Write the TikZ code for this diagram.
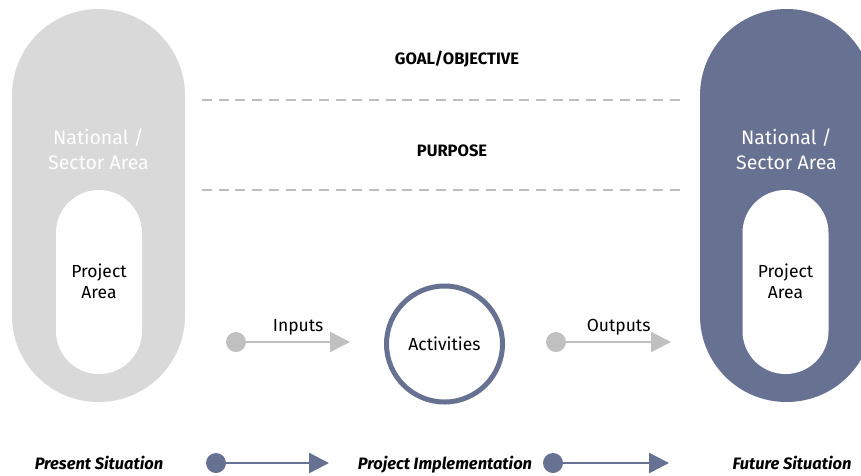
\documentclass[tikz,border=0pt]{standalone}
\usepackage{fontspec}
\setmainfont{Fira Sans}
\usepackage{tikz}
\usetikzlibrary{arrows.meta}
\definecolor{slate}{RGB}{103,113,145}
\definecolor{lightgrey}{RGB}{217,217,217}
\definecolor{arrowgrey}{RGB}{192,192,192}
\definecolor{dashgrey}{RGB}{190,190,190}
\tikzset{
    every node/.style={inner sep=0mm, align=center},
    capsule/.style={rectangle, minimum width=173pt, minimum height=393pt, rounded corners=86.4pt},
    hole/.style={rectangle, fill=white, minimum width=86pt, minimum height=184pt, rounded corners=42.9pt},
    dot/.style={circle, minimum size=20pt},
    flow/.style={line width=2.5pt, -{Triangle[length=20pt, width=20pt]}},
    heading/.style={font=\bfseries\fontsize{16.5}{19}\selectfont},
    stage/.style={anchor=base, font=\bfseries\itshape\fontsize{16.5}{19}\selectfont},
    area/.style={font=\fontsize{19.5}{25}\selectfont},
    plain/.style={font=\fontsize{17.5}{21}\selectfont}
}

\begin{document}
\begin{tikzpicture}[x=1pt, y=-1pt]
    \useasboundingbox (0, 0) rectangle (861, 475);
    \clip (0, 0) rectangle (861, 475);

    % present / future situation
    \node (now) at (98.5, 205.5) [capsule, fill=lightgrey] {};
    \node (nowin) at (99, 282) [hole] {};
    \node (nowtxt) at (98.5, 149) [area, text=white] {National /\\Sector Area};
    \node (nowpa) at (99, 281) [plain] {Project\\Area};

    \node (then) at (786.5, 205.5) [capsule, fill=slate] {};
    \node (thenin) at (785.5, 282) [hole] {};
    \node (thentxt) at (786.5, 149) [area, text=white] {National /\\Sector Area};
    \node (thenpa) at (785.5, 281) [plain] {Project\\Area};

    % levels
    \node (goal) at (457, 59) [heading] {GOAL/OBJECTIVE};
    \node (purp) at (452, 151) [heading] {PURPOSE};
    \coordinate (d1a) at (202, 100);
    \coordinate (d1b) at (686, 100);
    \coordinate (d2a) at (202, 190);
    \coordinate (d2b) at (686, 190);
    \draw[dashgrey, line width=1.5pt, dash pattern=on 10pt off 6.7pt] (d1a) -- (d1b);
    \draw[dashgrey, line width=1.5pt, dash pattern=on 10pt off 6.7pt] (d2a) -- (d2b);

    % inputs -> activities -> outputs
    \node (act) at (444.5, 344) [circle, draw=slate, line width=5pt, minimum size=116pt, plain] {Activities};

    \node (ind) at (236, 342) [dot, fill=arrowgrey] {};
    \coordinate (ine) at (350, 342);
    \draw[arrowgrey, flow] (ind) -- (ine) node[midway, above=6pt, text=black, plain] {Inputs};

    \node (outd) at (556, 342) [dot, fill=arrowgrey] {};
    \coordinate (oute) at (671, 342);
    \draw[arrowgrey, flow] (outd) -- (oute) node[midway, above=6pt, text=black, plain] {Outputs};

    % bottom row
    \node (pres) at (99, 469) [stage] {Present Situation};
    \node (impl) at (445, 469) [stage] {Project Implementation};
    \node (fut) at (792, 469) [stage] {Future Situation};

    \node (b1d) at (216, 463) [dot, fill=slate] {};
    \coordinate (b1e) at (329, 463);
    \draw[slate, flow] (b1d) -- (b1e);

    \node (b2d) at (553, 463) [dot, fill=slate] {};
    \coordinate (b2e) at (669, 463);
    \draw[slate, flow] (b2d) -- (b2e);
\end{tikzpicture}
\end{document}
